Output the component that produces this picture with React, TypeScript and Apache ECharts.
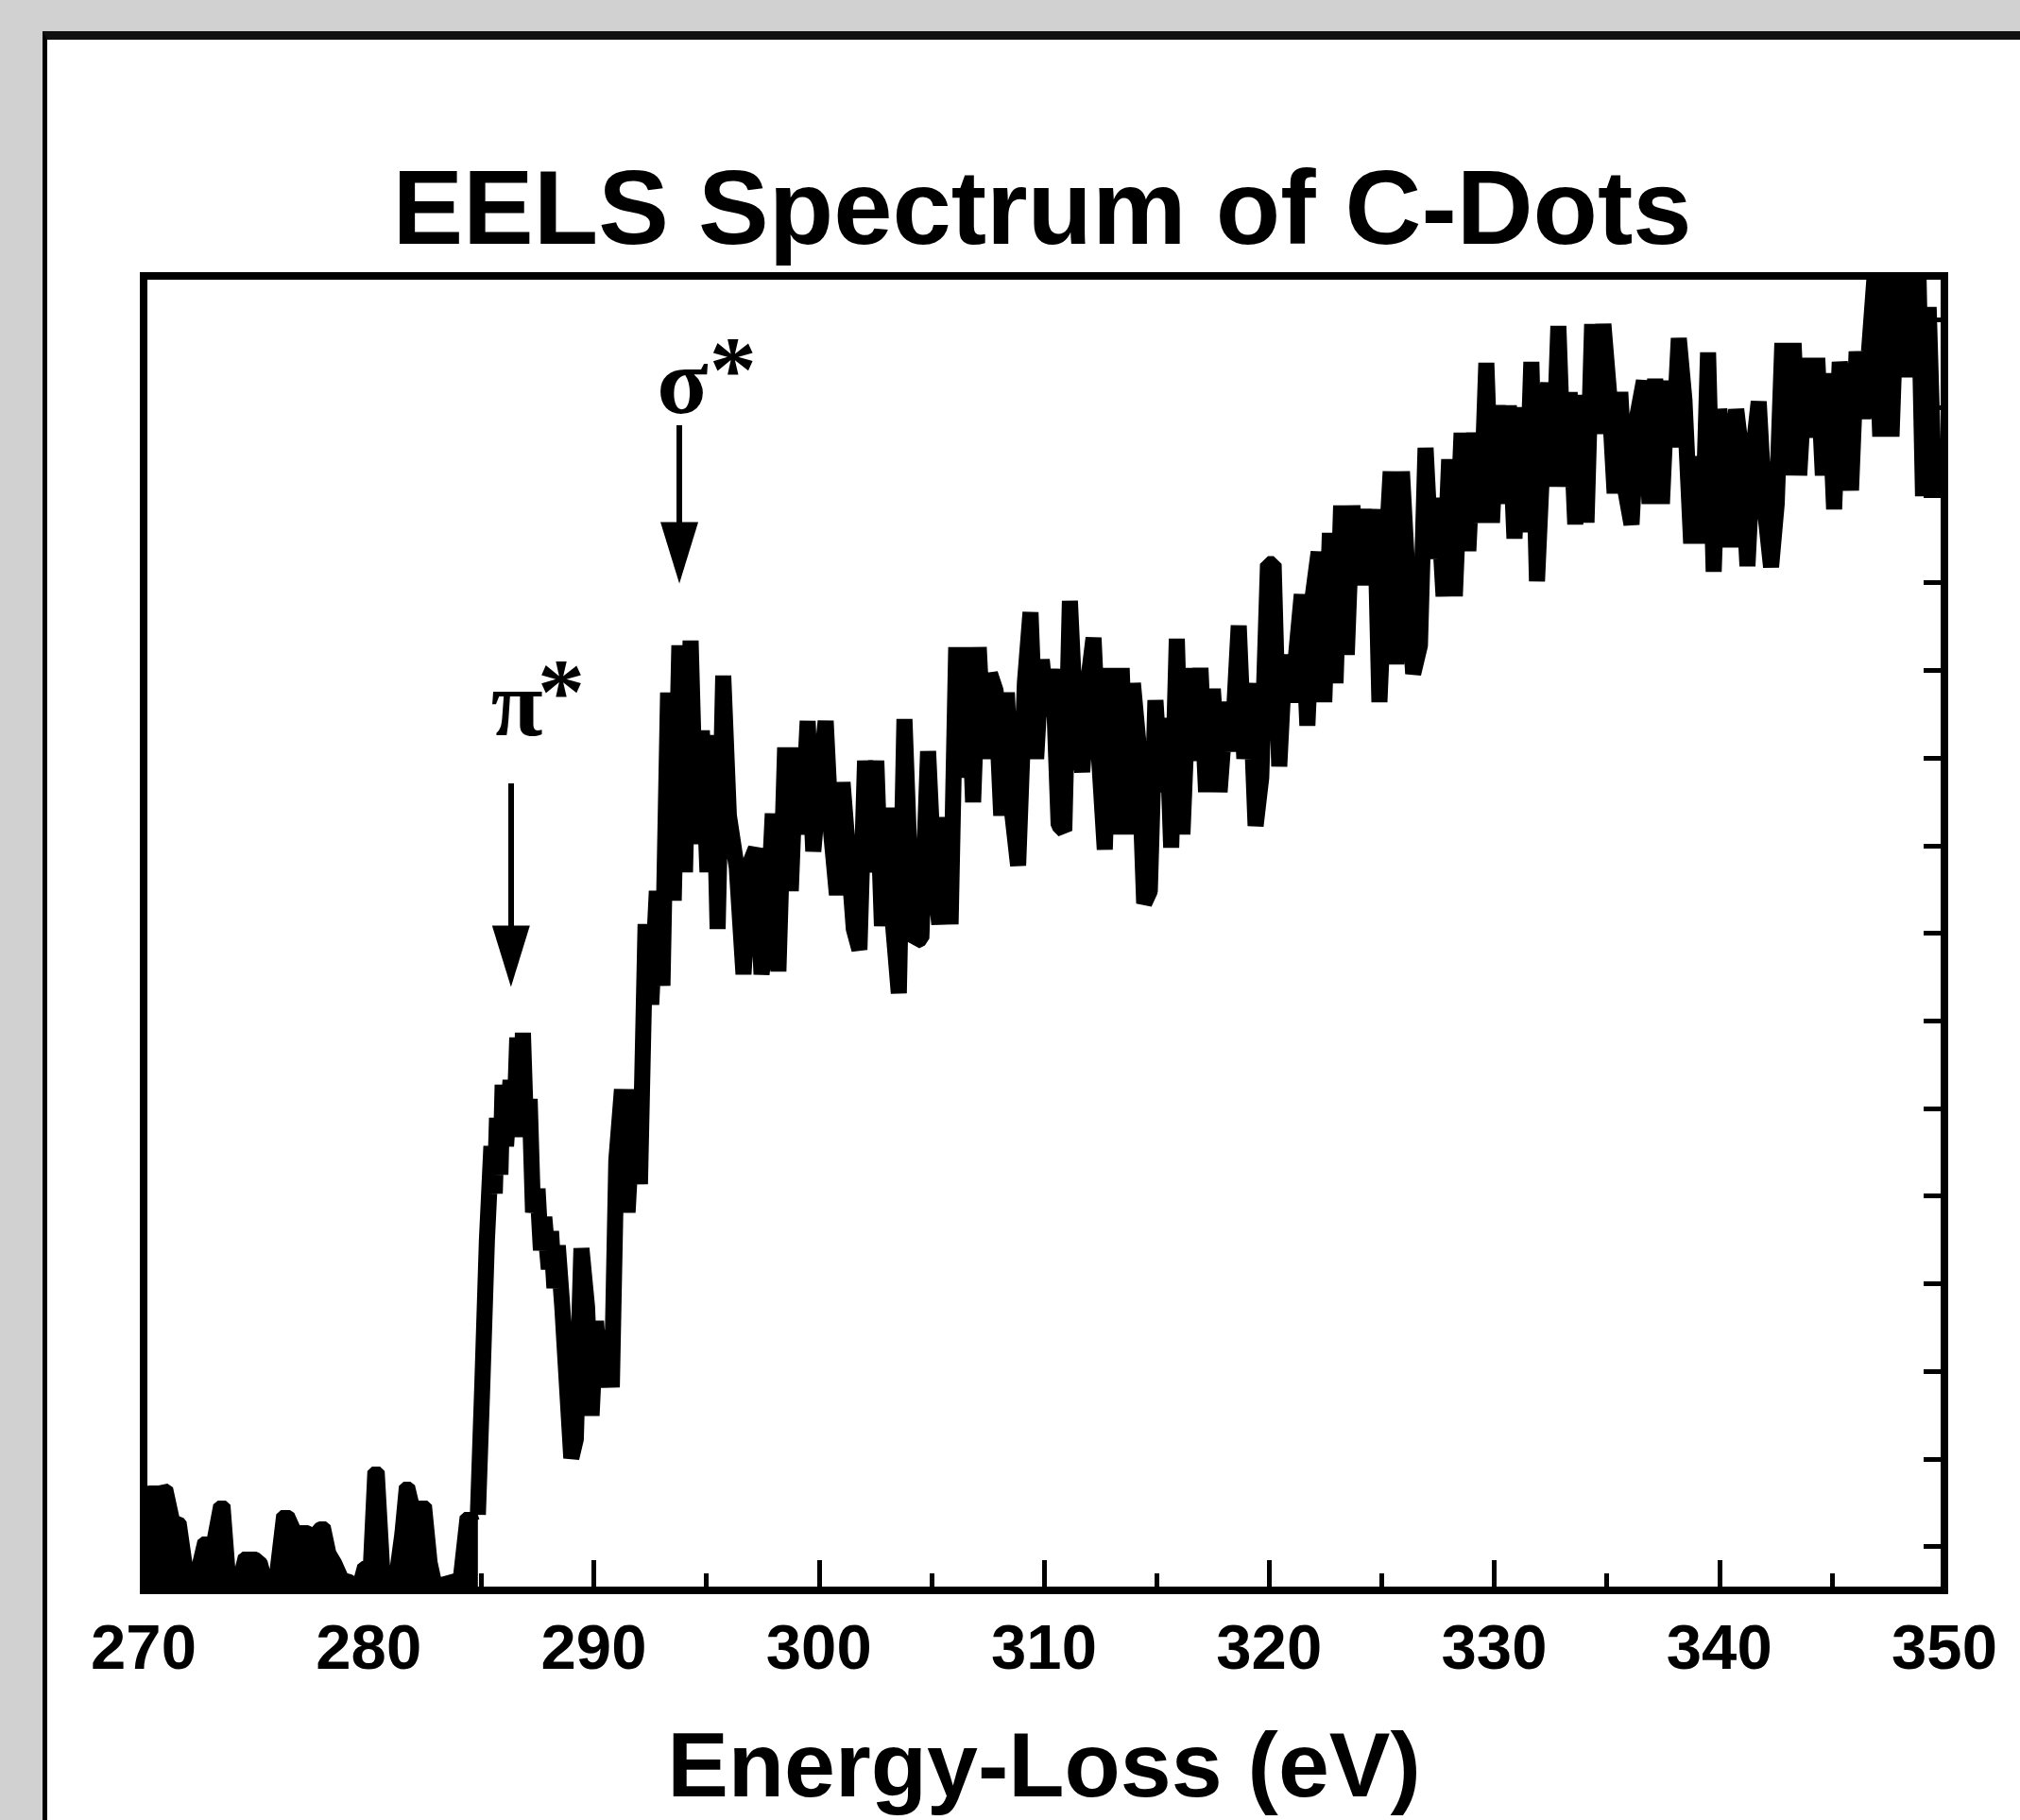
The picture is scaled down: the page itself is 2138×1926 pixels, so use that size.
import React, { useEffect, useRef } from "react";
import * as echarts from "echarts";

type Pt = [number, number];

// Energy-loss (eV) vs intensity (a.u.)
const preEdge: Pt[] = [
  [270.0, 105], [270.3, 106], [270.7, 106], [271.1, 108], [271.4, 75], [271.7, 72],
  [272.0, 22], [272.3, 22], [272.6, 52], [273.0, 52], [273.3, 90], [273.65, 90],
  [273.9, 12], [274.15, 12], [274.4, 36], [275.0, 36], [275.3, 30], [275.55, 8],
  [275.8, 20], [276.1, 80], [276.5, 80], [276.8, 64], [277.3, 64], [277.5, 60],
  [277.8, 68], [278.1, 68], [278.35, 40], [278.6, 30], [278.9, 14], [279.2, 12],
  [279.45, 4], [279.7, 26], [279.95, 26], [280.15, 126], [280.5, 126], [280.75, 20],
  [281.1, 16], [281.35, 60], [281.55, 110], [281.85, 110], [282.05, 90], [282.6, 90],
  [282.85, 30], [283.05, 8], [283.35, 10], [283.65, 12], [283.95, 14], [284.25, 78],
  [284.6, 78], [284.85, 80],
];

const piStarEdge: Pt[] = [
  [285.05, 220], [285.25, 370], [285.45, 470], [285.6, 420], [285.7, 500], [285.85, 440],
  [285.95, 535], [286.1, 470], [286.3, 540], [286.45, 480], [286.6, 585], [286.75, 500],
  [286.85, 590], [287.0, 480], [287.15, 520], [287.3, 400], [287.5, 425], [287.65, 360],
  [287.8, 395], [288.0, 340], [288.1, 380], [288.25, 320], [288.4, 365], [288.6, 300],
  [288.75, 240], [289.0, 140], [289.2, 160], [289.45, 362], [289.7, 300], [289.9, 185],
  [290.1, 285], [290.3, 215], [290.55, 275], [290.8, 215],
];

const sigmaStarEdge: Pt[] = [
  [291.0, 455], [291.25, 530], [291.5, 400], [291.8, 530], [292.05, 430], [292.3, 705],
  [292.55, 620], [292.8, 740], [293.05, 640], [293.3, 950], [293.55, 730], [293.8, 1000],
  [294.05, 760], [294.3, 1005], [294.55, 790], [294.8, 910], [295.05, 760], [295.3, 905],
  [295.5, 700], [295.75, 968], [296.0, 820], [296.35, 765], [296.65, 652], [296.95, 770],
  [297.2, 785], [297.45, 652], [297.7, 700], [297.95, 822], [298.2, 655], [298.5, 892],
  [298.75, 740], [299.0, 892], [299.25, 800], [299.5, 920], [299.75, 782], [300.0, 850],
  [300.3, 920], [300.55, 800], [300.8, 736], [301.05, 855], [301.3, 780], [301.55, 700],
  [301.8, 678], [302.05, 878], [302.3, 760], [302.55, 878], [302.8, 703], [303.05, 828],
  [303.3, 703], [303.55, 632], [303.8, 922], [304.05, 760], [304.3, 687], [304.55, 690],
  [304.85, 888], [305.1, 760], [305.35, 705], [305.6, 818], [305.85, 705],
];

const midPlateau: Pt[] = [
  [306.1, 998], [306.35, 860], [306.6, 998], [306.85, 834], [307.1, 998], [307.35, 880],
  [307.6, 970], [307.85, 952], [308.1, 820], [308.35, 950], [308.6, 820], [308.85, 767],
  [309.15, 960], [309.4, 1035], [309.65, 880], [309.9, 985], [310.15, 925], [310.4, 975],
  [310.65, 810], [310.9, 804], [311.15, 1047], [311.4, 920], [311.7, 866], [311.95, 960],
  [312.2, 1008], [312.45, 880], [312.7, 784], [312.95, 976], [313.2, 800], [313.45, 976],
  [313.7, 800], [313.95, 960], [314.2, 895], [314.45, 727], [314.7, 740], [314.95, 942],
  [315.2, 845], [315.45, 923], [315.65, 786], [315.9, 1007], [316.15, 800], [316.45, 976],
  [316.7, 878], [316.95, 976], [317.2, 845], [317.5, 954], [317.8, 845], [318.1, 940],
  [318.35, 888], [318.65, 1021], [318.9, 880], [319.15, 960], [319.4, 809], [319.65, 860],
];

const risingTail: Pt[] = [
  [319.95, 1086], [320.2, 1086], [320.45, 872], [320.7, 990], [320.95, 940], [321.2, 990],
  [321.45, 1054], [321.7, 915], [321.95, 1054], [322.2, 1099], [322.45, 940], [322.7, 1119],
  [322.95, 960], [323.2, 1148], [323.45, 990], [323.7, 1148], [323.95, 1064], [324.2, 1144],
  [324.45, 1064], [324.7, 1144], [324.9, 940], [325.15, 1078], [325.4, 1184], [325.65, 980],
  [325.9, 1184], [326.15, 1074], [326.4, 970], [326.7, 1000], [326.95, 1209], [327.2, 1092],
  [327.5, 1156], [327.75, 1052], [328.0, 1197], [328.25, 1052], [328.55, 1225], [328.85, 1100],
  [329.1, 1225], [329.4, 1130], [329.65, 1299], [329.9, 1130], [330.15, 1254], [330.4, 1150],
  [330.65, 1254], [330.9, 1113], [331.15, 1252],
];

const highEnd: Pt[] = [
  [331.4, 1120], [331.65, 1300], [331.9, 1068], [332.15, 1200], [332.4, 1278], [332.6, 1168],
  [332.85, 1338], [333.1, 1168], [333.35, 1268], [333.6, 1128], [333.85, 1265], [334.1, 1130],
  [334.35, 1340], [334.6, 1224], [334.85, 1340], [335.1, 1268], [335.35, 1161], [335.6, 1268],
  [335.85, 1161], [336.1, 1128], [336.35, 1242], [336.65, 1280], [336.9, 1150], [337.15, 1282],
  [337.45, 1150], [337.7, 1280], [337.95, 1210], [338.2, 1325], [338.45, 1260], [338.75, 1108],
  [339.0, 1200], [339.25, 1108], [339.5, 1310], [339.75, 1078], [340.0, 1250], [340.25, 1200],
  [340.5, 1104], [340.75, 1250], [341.0, 1200], [341.25, 1084], [341.5, 1204], [341.75, 1258],
  [342.0, 1150], [342.3, 1083], [342.55, 1150], [342.8, 1320], [343.05, 1180], [343.3, 1320],
  [343.55, 1180], [343.85, 1304], [344.1, 1220], [344.35, 1304], [344.6, 1180], [344.85, 1288],
  [345.1, 1144], [345.35, 1300], [345.6, 1250], [345.85, 1164], [346.1, 1311], [346.4, 1240],
  [346.65, 1311], [346.9, 1391], [347.15, 1221], [347.4, 1391], [347.65, 1221], [347.9, 1391],
  [348.15, 1284], [348.4, 1391], [348.65, 1284], [348.85, 1391], [349.05, 1158], [349.3, 1358],
  [349.55, 1158], [349.8, 1200],
];

// the pre-edge part is drawn filled down to the axis, as in the picture
const edgeAndAbove: Pt[] = [
  preEdge[preEdge.length - 1], ...piStarEdge, ...sigmaStarEdge, ...midPlateau, ...risingTail, ...highEnd,
];

const xMin = 270;
const xMax = 350;
const xStep = 10;
const yMin = 0;
const yMax = 1391;
const rightTickUnits = 15;

const arrows = [
  { name: "π*", x: 286.32, from: 854, to: 671 },
  { name: "σ*", x: 293.8, from: 1233, to: 1098 },
];

const edgeLabels = [
  { text: "π", x: 286.58, y: 939 },
  { text: "*", x: 288.55, y: 952 },
  { text: "σ", x: 293.94, y: 1280 },
  { text: "*", x: 296.18, y: 1293 },
];

const traceStyle = { color: "#000", width: 17, join: "bevel", cap: "butt" };

export default function App() {
  const ref = useRef<HTMLDivElement>(null);

  useEffect(() => {
    if (!ref.current) return;
    const chart = echarts.init(ref.current, null, { renderer: "svg" });
    chart.setOption({
      animation: false,
      backgroundColor: "transparent",
      title: {
        text: "EELS Spectrum of C-Dots",
        left: 1103,
        top: 163,
        padding: 0,
        textAlign: "center",
        textStyle: {
          fontFamily: "Liberation Sans",
          fontWeight: "bold",
          fontSize: 112,
          color: "#000",
        },
      },
      grid: {
        left: 152,
        top: 292,
        right: 80,
        bottom: 243,
        show: true,
        borderColor: "#000",
        borderWidth: 8,
        backgroundColor: "transparent",
        containLabel: false,
        outerBoundsMode: "none",
      },
      xAxis: [
        {
          type: "value",
          position: "bottom",
          min: xMin,
          max: xMax,
          interval: xStep,
          axisLine: { show: false },
          axisTick: { show: true, inside: true, length: 32, lineStyle: { color: "#000", width: 5 } },
          minorTick: { show: true, splitNumber: 2, length: 18, lineStyle: { color: "#000", width: 5 } },
          splitLine: { show: false },
          minorSplitLine: { show: false },
          axisLabel: {
            show: true,
            margin: 26,
            fontFamily: "Liberation Sans",
            fontWeight: "bold",
            fontSize: 67,
            color: "#000",
            showMinLabel: true,
            showMaxLabel: true,
          },
          name: "Energy-Loss (eV)",
          nameLocation: "middle",
          nameGap: 136,
          nameTextStyle: {
            fontFamily: "Liberation Sans",
            fontWeight: "bold",
            fontSize: 97,
            color: "#000",
          },
        },
      ],
      yAxis: [
        {
          type: "value",
          position: "left",
          min: yMin,
          max: yMax,
          axisLine: { show: false },
          axisTick: { show: false },
          axisLabel: { show: false },
          splitLine: { show: false },
        },
        {
          type: "value",
          position: "right",
          min: 0,
          max: rightTickUnits,
          interval: 1,
          axisLine: { show: false },
          axisTick: { show: false, inside: true },
          minorTick: { show: true, splitNumber: 2, length: 22, lineStyle: { color: "#000", width: 5 } },
          axisLabel: { show: false },
          splitLine: { show: false },
          minorSplitLine: { show: false },
        },
      ],
      series: [
        {
          type: "line",
          name: "EELS pre-edge",
          xAxisIndex: 0,
          yAxisIndex: 0,
          data: preEdge,
          showSymbol: false,
          symbol: "none",
          silent: true,
          clip: true,
          lineStyle: { ...traceStyle, width: 10 },
          areaStyle: { color: "#000", opacity: 1, origin: "start" },
        },
        {
          type: "line",
          name: "EELS",
          xAxisIndex: 0,
          yAxisIndex: 0,
          data: edgeAndAbove,
          showSymbol: false,
          symbol: "none",
          silent: true,
          clip: true,
          lineStyle: traceStyle,
          markLine: {
            silent: true,
            animation: false,
            symbol: ["none", "triangle"],
            label: { show: false },
            lineStyle: { color: "#000", width: 6, type: "solid" },
            emphasis: { disabled: true },
            data: arrows.map((a) => [
              { coord: [a.x, a.from], symbol: "none" },
              { coord: [a.x, a.to], symbol: "triangle", symbolSize: [40, 65] },
            ]),
          },
        },
        {
          type: "scatter",
          name: "edge labels",
          xAxisIndex: 0,
          yAxisIndex: 0,
          silent: true,
          symbolSize: 1,
          itemStyle: { color: "#fff", opacity: 1 },
          data: edgeLabels.map((l) => ({
            value: [l.x, l.y],
            label: { formatter: l.text },
          })),
          label: {
            show: true,
            position: "inside",
            fontFamily: "Liberation Serif",
            fontWeight: "bold",
            fontSize: 100,
            color: "#000",
            textBorderWidth: 0,
            opacity: 1,
          },
        },
      ],
    });
    return () => chart.dispose();
  }, []);

  return (
    <div
      style={{
        position: "absolute",
        left: 0,
        top: 0,
        width: 2138,
        height: 1926,
        background: "#d1d1d1",
        overflow: "hidden",
      }}
    >
      <div
        style={{
          position: "absolute",
          left: 45,
          top: 33,
          right: -20,
          bottom: -20,
          background: "#fff",
          borderLeft: "5px solid #000",
          borderTop: "9px solid #111",
        }}
      />
      <div
        ref={ref}
        style={{ position: "absolute", left: 0, top: 0, width: 2138, height: 1926 }}
      />
    </div>
  );
}
